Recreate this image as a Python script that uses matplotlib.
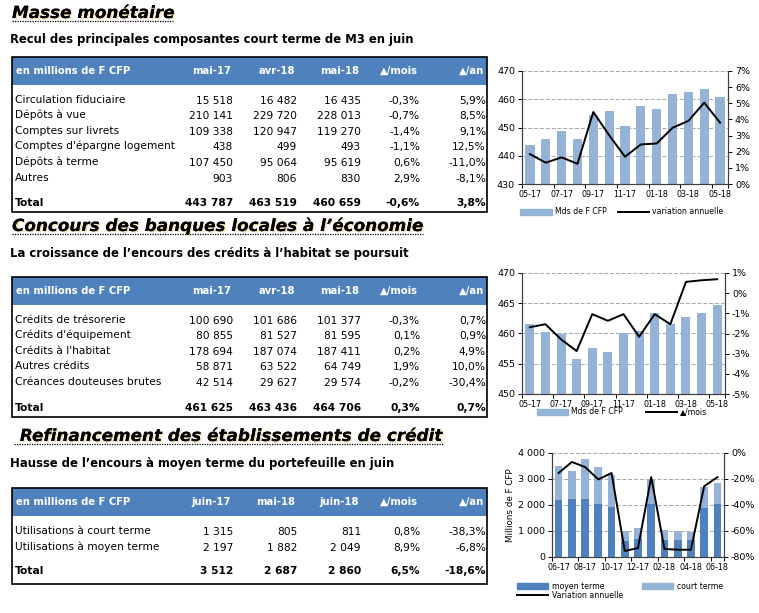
import matplotlib
matplotlib.use("Agg")
import matplotlib.pyplot as plt
from matplotlib.patches import Rectangle, Patch
from matplotlib.lines import Line2D
import matplotlib.patheffects as pe
from matplotlib.ticker import FuncFormatter

plt.rcParams['font.family'] = ['DejaVu Sans']

W, H = 759, 613

# ---------- tables ----------
cols1 = ["mai-17", "avr-18", "mai-18", "▲/mois", "▲/an"]
labels1 = ["Circulation fiduciaire", "Dépôts à vue", "Comptes sur livrets",
           "Comptes d'épargne logement", "Dépôts à terme", "Autres"]
mai17_1 = [15518, 210141, 109338, 438, 107450, 903]
avr18_1 = [16482, 229720, 120947, 499, 95064, 806]
mai18_1 = [16435, 228013, 119270, 493, 95619, 830]
mois_1 = [-0.3, -0.7, -1.4, -1.1, 0.6, 2.9]
an_1 = [5.9, 8.5, 9.1, 12.5, -11.0, -8.1]
total1 = [443787, 463519, 460659, -0.6, 3.8]

cols2 = ["mai-17", "avr-18", "mai-18", "▲/mois", "▲/an"]
labels2 = ["Crédits de trésorerie", "Crédits d'équipement", "Crédits à l'habitat",
           "Autres crédits", "Créances douteuses brutes"]
mai17_2 = [100690, 80855, 178694, 58871, 42514]
avr18_2 = [101686, 81527, 187074, 63522, 29627]
mai18_2 = [101377, 81595, 187411, 64749, 29574]
mois_2 = [-0.3, 0.1, 0.2, 1.9, -0.2]
an_2 = [0.7, 0.9, 4.9, 10.0, -30.4]
total2 = [461625, 463436, 464706, 0.3, 0.7]

cols3 = ["juin-17", "mai-18", "juin-18", "▲/mois", "▲/an"]
labels3 = ["Utilisations à court terme", "Utilisations à moyen terme"]
juin17_3 = [1315, 2197]
mai18_3 = [805, 1882]
juin18_3 = [811, 2049]
mois_3 = [0.8, 8.9]
an_3 = [-38.3, -6.8]
total3 = [3512, 2687, 2860, 6.5, -18.6]

# ---------- charts ----------
mois_a = ["05-17", "06-17", "07-17", "08-17", "09-17", "10-17", "11-17",
          "12-17", "01-18", "02-18", "03-18", "04-18", "05-18"]
m3_mds = [443.8, 445.8, 448.8, 446.1, 454.6, 455.8, 450.5, 457.6, 456.7,
          461.8, 462.6, 463.5, 460.7]
m3_var = [1.85, 1.32, 1.65, 1.25, 4.46, 3.02, 1.69, 2.45, 2.51, 3.48,
          3.91, 5.04, 3.8]

credits_mds = [461.6, 460.2, 459.9, 455.8, 457.6, 456.9, 460.0, 460.4,
               463.4, 461.5, 462.7, 463.4, 464.7]
credits_var = [-1.69, -1.54, -2.29, -2.87, -1.04, -1.37, -1.04, -2.16,
               -1.04, -1.54, 0.56, 0.64, 0.69]

mois_b = ["06-17", "07-17", "08-17", "09-17", "10-17", "11-17", "12-17",
          "01-18", "02-18", "03-18", "04-18", "05-18", "06-18"]
moyen = [2197, 2218, 2231, 2051, 1923, 615, 692, 2051, 641, 641, 641, 1882, 2049]
court = [1315, 1077, 1525, 1410, 1244, 385, 423, 962, 385, 346, 321, 805, 811]
var3 = [-15.4, -6.9, -10.8, -20.3, -15.4, -75.4, -73.1, -18.5, -73.8,
        -74.4, -74.4, -25.6, -18.6]

BLUE = '#4F81BD'
LIGHT = '#95B3D7'


def num(v):
    return f"{v:,}".replace(",", " ")


def pct(v):
    return f"{v:.1f}%".replace(".", ",")


fig = plt.figure(figsize=(W / 100, H / 100), dpi=100)
ax0 = fig.add_axes([0, 0, 1, 1])
ax0.set_xlim(0, W)
ax0.set_ylim(H, 0)
ax0.axis('off')

shadow = [pe.withSimplePatchShadow(offset=(1, -1), shadow_rgbFace='#D9A520', alpha=0.35), pe.Normal()]


def section(title, tx, ty, ux0, ux1, uy, sub, sy):
    ax0.text(tx, ty, title, fontsize=12.1, fontweight='bold', style='italic',
             va='baseline', ha='left', path_effects=shadow)
    ax0.plot([ux0, ux1], [uy, uy], color='black', lw=0.9, ls=(0, (1, 1)))
    ax0.text(10, sy, sub, fontsize=8.4, fontweight='bold', va='center', ha='left')


colx = [233, 297, 361, 420, 486]


def table(top, hbot, bot, head, cols, labels, values, rowy, total, totaly, hy):
    ax0.add_patch(Rectangle((12, top), 475, hbot - top, facecolor=BLUE, edgecolor='none'))
    ax0.add_patch(Rectangle((12, top), 475, bot - top, facecolor='none', edgecolor='black', lw=1.2))
    ax0.text(16, hy, head, color='white', fontsize=7.2, fontweight='bold', va='center')
    for c, x in zip(cols, colx):
        ax0.text(x - 2, hy, c, color='white', fontsize=7.2, fontweight='bold', va='center', ha='right')
    for i, lab in enumerate(labels):
        y = rowy[i]
        ax0.text(15, y, lab, fontsize=7.7, va='center')
        cells = [num(values[0][i]), num(values[1][i]), num(values[2][i]),
                 pct(values[3][i]), pct(values[4][i])]
        for s, x in zip(cells, colx):
            ax0.text(x, y + 1, s, fontsize=7.7, va='center', ha='right')
    ax0.text(15, totaly, "Total", fontsize=7.7, fontweight='bold', va='center')
    cells = [num(total[0]), num(total[1]), num(total[2]), pct(total[3]), pct(total[4])]
    for s, x in zip(cells, colx):
        ax0.text(x, totaly, s, fontsize=7.7, fontweight='bold', va='center', ha='right')


section("Masse monétaire", 12, 18, 12, 173, 21,
        "Recul des principales composantes court terme de M3 en juin", 40)
table(57, 85, 212, "en millions de F CFP", cols1, labels1,
      [mai17_1, avr18_1, mai18_1, mois_1, an_1],
      [100, 115, 131, 146, 162, 178], total1, 203, 71)

section("Concours des banques locales à l’économie", 12, 231, 12, 423, 234,
        "La croissance de l’encours des crédits à l’habitat se poursuit", 254)
table(277, 305, 417, "en millions de F CFP", cols2, labels2,
      [mai17_2, avr18_2, mai18_2, mois_2, an_2],
      [320, 335, 351, 366, 382], total2, 408, 291)

section(" Refinancement des établissements de crédit", 14, 441, 14, 443, 444,
        "Hausse de l’encours à moyen terme du portefeuille en juin", 463)
table(488, 516, 584, "en millions de F CFP", cols3, labels3,
      [juin17_3, mai18_3, juin18_3, mois_3, an_3],
      [531, 547], total3, 571, 502)


def frame(left, right, top, bottom):
    return fig.add_axes([left / W, 1 - bottom / H, (right - left) / W, (bottom - top) / H])


def style(ax, ax2, months):
    n = len(months)
    ax.set_xlim(-0.5, n - 0.5)
    ax.set_xticks(range(0, n, 2))
    ax.set_xticklabels(months[::2], fontsize=5.8)
    ax.set_xticks([k - 0.5 for k in range(0, n, 2)] + [n - 0.5], minor=True)
    ax.tick_params(axis='x', which='major', length=0, pad=4)
    ax.tick_params(axis='x', which='minor', length=3, width=0.7)
    ax.tick_params(axis='y', labelsize=6.8, length=3, width=0.7, pad=2)
    ax2.tick_params(axis='y', labelsize=6.8, length=3, width=0.7, pad=2)
    ax.yaxis.grid(True, ls=(0, (4, 2)), color='#A6A6A6', lw=0.7)
    ax.set_axisbelow(True)
    for a in (ax, ax2):
        a.spines['top'].set_visible(False)
        for s in ('left', 'right', 'bottom'):
            a.spines[s].set_linewidth(0.8)
            a.spines[s].set_color('#404040')


pctfmt = FuncFormatter(lambda v, p: f"{v:.0f}%")

# chart 1
x = range(len(mois_a))
ax1 = frame(522, 728, 71, 184)
ax1.bar(x, [v - 430 for v in m3_mds], bottom=430, width=0.58, color=LIGHT)
ax1.set_ylim(430, 470)
ax1.set_yticks(range(430, 471, 10))
ax1b = ax1.twinx()
ax1b.plot(x, m3_var, color='black', lw=1.4)
ax1b.set_ylim(0, 7)
ax1b.set_yticks(range(0, 8))
ax1b.yaxis.set_major_formatter(pctfmt)
style(ax1, ax1b, mois_a)
fig.legend([Patch(color=LIGHT), Line2D([], [], color='black', lw=1.4)],
           ["Mds de F CFP", "variation annuelle"], loc='center',
           bbox_to_anchor=(622 / W, 1 - 212 / H), ncol=2, frameon=False,
           fontsize=5.6, handlelength=4, handleheight=0.9, columnspacing=1.5, handletextpad=0.4)

# chart 2
ax2 = frame(522, 725, 273, 394)
ax2.bar(x, [v - 450 for v in credits_mds], bottom=450, width=0.58, color=LIGHT)
ax2.set_ylim(450, 470)
ax2.set_yticks(range(450, 471, 5))
ax2b = ax2.twinx()
ax2b.plot(x, credits_var, color='black', lw=1.4)
ax2b.set_ylim(-5, 1)
ax2b.set_yticks(range(-5, 2))
ax2b.yaxis.set_major_formatter(pctfmt)
style(ax2, ax2b, mois_a)
fig.legend([Patch(color=LIGHT), Line2D([], [], color='black', lw=1.4)],
           ["Mds de F CFP", "▲/mois"], loc='center',
           bbox_to_anchor=(622 / W, 1 - 412 / H), ncol=2, frameon=False,
           fontsize=5.6, handlelength=4, handleheight=0.9, columnspacing=3, handletextpad=0.4)

# chart 3
xb = range(len(mois_b))
ax3 = frame(552, 724, 453, 557)
ax3.bar(xb, moyen, width=0.58, color=BLUE)
ax3.bar(xb, court, bottom=moyen, width=0.58, color=LIGHT)
ax3.set_ylim(0, 4000)
ax3.set_yticks(range(0, 4001, 1000))
ax3.yaxis.set_major_formatter(FuncFormatter(lambda v, p: num(int(v))))
ax3.set_ylabel("Millions de F CFP", fontsize=6.3, labelpad=2)
ax3b = ax3.twinx()
ax3b.plot(xb, var3, color='black', lw=1.4)
ax3b.set_ylim(-80, 0)
ax3b.set_yticks(range(-80, 1, 20))
ax3b.yaxis.set_major_formatter(pctfmt)
style(ax3, ax3b, mois_b)
fig.legend([Patch(color=BLUE), Line2D([], [], color='black', lw=1.4), Patch(color=LIGHT)],
           ["moyen terme", "Variation annuelle", "court terme"], loc='center',
           bbox_to_anchor=(620 / W, 1 - 591 / H), ncol=2, frameon=False,
           fontsize=5.6, handlelength=4, handleheight=0.9, columnspacing=2.5,
           handletextpad=0.4, labelspacing=0.1)

fig.savefig("out.png", dpi=100)
